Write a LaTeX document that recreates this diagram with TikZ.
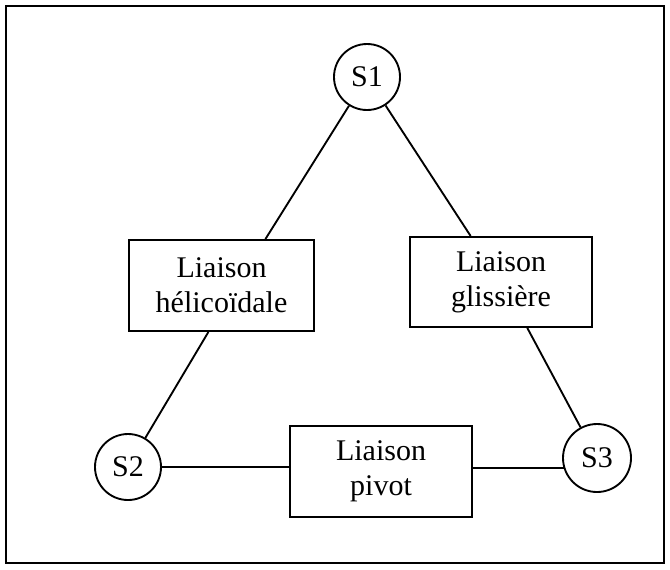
\documentclass[tikz,border=0pt]{standalone}
\usepackage{fontspec}
\setmainfont{Liberation Serif}
\usetikzlibrary{calc}
\begin{document}
\begin{tikzpicture}[x=0.75pt,y=-0.75pt,
  lw/.style={line width=1.4pt},
  txt/.style={font=\fontsize{22.5}{26.25}\selectfont},
  body/.style={circle,draw,lw,txt,minimum size=49.5pt,inner sep=0pt},
  liaison/.style={rectangle,draw,lw,txt,inner sep=0pt,align=center},
  link/.style={lw}]
\useasboundingbox (0,0) rectangle (670,569);
\draw[lw] (6,6) rectangle (664,563);
% bodies
\node[body] (s1) at (367,77) {S1};
\node[body] (s2) at (128,467) {S2};
\node[body,minimum size=51pt] (s3) at (597,458) {S3};
% liaisons
\node[liaison,minimum width=138.75pt,minimum height=68.25pt] (hel) at (221.5,285.5) {Liaison\\hélicoïdale};
\node[liaison,minimum width=136.5pt,minimum height=67.5pt] (gli) at (501,282) {Liaison\\glissière};
\node[liaison,minimum width=136.5pt,minimum height=68.25pt] (piv) at (381,471.5) {Liaison\\pivot};
% attachment points
\coordinate (hA) at ($(hel.north west)!0.735!(hel.north east)$);
\coordinate (gA) at ($(gli.north west)!0.335!(gli.north east)$);
\coordinate (hB) at ($(hel.south west)!0.43!(hel.south east)$);
\coordinate (gB) at ($(gli.south west)!0.643!(gli.south east)$);
% connectors
\draw[link] (s1) -- (hA);
\draw[link] (s1) -- (gA);
\draw[link] (s2) -- (hB);
\draw[link] (s3) -- (gB);
\draw[link] (s2.east) -- (s2.east -| piv.west);
\draw[link] (s3.197) -- (s3.197 -| piv.east);
\end{tikzpicture}
\end{document}
